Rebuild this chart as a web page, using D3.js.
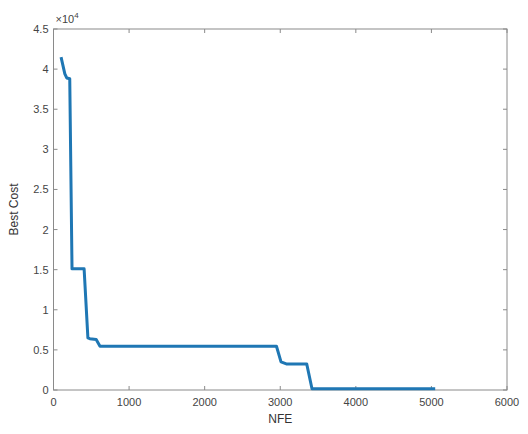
<!DOCTYPE html>
<html><head><meta charset="utf-8">
<script src="https://cdn.jsdelivr.net/npm/d3@7"></script>
<style>body{margin:0;background:#fff;} text{font-family:"Liberation Sans",Arial,sans-serif;}</style>
</head><body>
<svg id="c" width="528" height="434"></svg>
<script>
const nfe  = [100, 150, 175, 215, 245, 405, 455, 480, 565, 615, 2950, 3010, 3080, 3350, 3420, 5050];
const cost = [41500, 39400, 38900, 38800, 15100, 15100, 6500, 6400, 6300, 5450, 5450, 3500, 3250, 3250, 150, 150];
const xTicks = [0, 1000, 2000, 3000, 4000, 5000, 6000];
const yTicks = [0, 0.5, 1, 1.5, 2, 2.5, 3, 3.5, 4, 4.5];
const xLabel = "NFE", yLabel = "Best Cost";

const L = 53.5, R = 507, T = 29, B = 390;
const svg = d3.select("#c");
const x = d3.scaleLinear().domain([0, 6000]).range([L, R]);
const y = d3.scaleLinear().domain([0, 45000]).range([B, T]);
const axisCol = "#8a8a8a", txtCol = "#444";

// box
svg.append("rect").attr("x", L).attr("y", T).attr("width", R - L).attr("height", B - T)
  .attr("fill", "none").attr("stroke", axisCol).attr("stroke-width", 1);

const g = svg.append("g");
const tl = 4;
xTicks.forEach(v => {
  g.append("line").attr("x1", x(v)).attr("x2", x(v)).attr("y1", B).attr("y2", B - tl).attr("stroke", axisCol);
  g.append("line").attr("x1", x(v)).attr("x2", x(v)).attr("y1", T).attr("y2", T + tl).attr("stroke", axisCol);
  g.append("text").attr("x", x(v)).attr("y", B + 16).attr("text-anchor", "middle")
    .attr("font-size", 11).attr("fill", txtCol).text(v);
});
yTicks.forEach(v => {
  const yy = y(v * 1e4);
  g.append("line").attr("x1", L).attr("x2", L + tl).attr("y1", yy).attr("y2", yy).attr("stroke", axisCol);
  g.append("line").attr("x1", R).attr("x2", R - tl).attr("y1", yy).attr("y2", yy).attr("stroke", axisCol);
  g.append("text").attr("x", L - 5).attr("y", yy + 4).attr("text-anchor", "end")
    .attr("font-size", 11).attr("fill", txtCol).text(v);
});
// exponent
const ex = svg.append("text").attr("x", L + 2).attr("y", T - 6).attr("font-size", 11).attr("fill", txtCol);
ex.append("tspan").text("\u00d710");
ex.append("tspan").attr("font-size", 8).attr("dy", -5).text("4");

svg.append("text").attr("x", (L + R) / 2).attr("y", B + 33).attr("text-anchor", "middle")
  .attr("font-size", 12).attr("fill", "#333").text(xLabel);
svg.append("text").attr("transform", `translate(18,${(T + B) / 2}) rotate(-90)`).attr("text-anchor", "middle")
  .attr("font-size", 12).attr("fill", "#333").text(yLabel);

const data = nfe.map((d, i) => [d, cost[i]]);
svg.append("path").datum(data)
  .attr("d", d3.line().x(d => x(d[0])).y(d => y(d[1])))
  .attr("fill", "none").attr("stroke", "#1f77b4").attr("stroke-width", 3)
  .attr("stroke-linejoin", "round");
</script>
</body></html>
